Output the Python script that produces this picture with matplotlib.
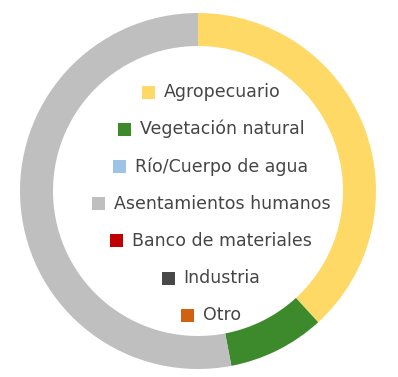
import matplotlib
matplotlib.use('Agg')
import matplotlib.pyplot as plt
from matplotlib.patches import Rectangle

# land use categories and their share of the ring (percent)
categories = ['Agropecuario', 'Vegetación natural', 'Río/Cuerpo de agua',
              'Asentamientos humanos', 'Banco de materiales', 'Industria', 'Otro']
shares = [38.2, 8.8, 0, 53.0, 0, 0, 0]
colors = ['#FFD966', '#3D8A2D', '#9DC3E6', '#BFBFBF', '#C00000', '#484848', '#D0620F']

W, H = 398, 377
fig = plt.figure(figsize=(W / 100, H / 100), dpi=100)
ax = fig.add_axes([0, 0, 1, 1])

# donut
ax.pie(shares, colors=colors, center=(198, H - 191), radius=178,
       startangle=90, counterclock=False,
       wedgeprops=dict(width=33, edgecolor='none'))
ax.set_xlim(0, W)
ax.set_ylim(0, H)
ax.set_aspect('equal')
ax.axis('off')

# legend in the hole: each row centred as marker + label
cx = 211
msize = 13
gap = 9
texts = []
for i, name in enumerate(categories):
    y = H - (92 + 37.2 * i)
    t = ax.text(cx + (msize + gap) / 2, y, name, ha='center', va='center',
                fontsize=12.5, color='#454545', family='DejaVu Sans')
    texts.append(t)

fig.canvas.draw()
renderer = fig.canvas.get_renderer()
for t, c in zip(texts, colors):
    bb = t.get_window_extent(renderer)
    y = t.get_position()[1]
    ax.add_patch(Rectangle((bb.x0 - gap - msize, y - msize / 2), msize, msize,
                           facecolor=c, edgecolor='none'))

fig.savefig('out.png', dpi=100)
